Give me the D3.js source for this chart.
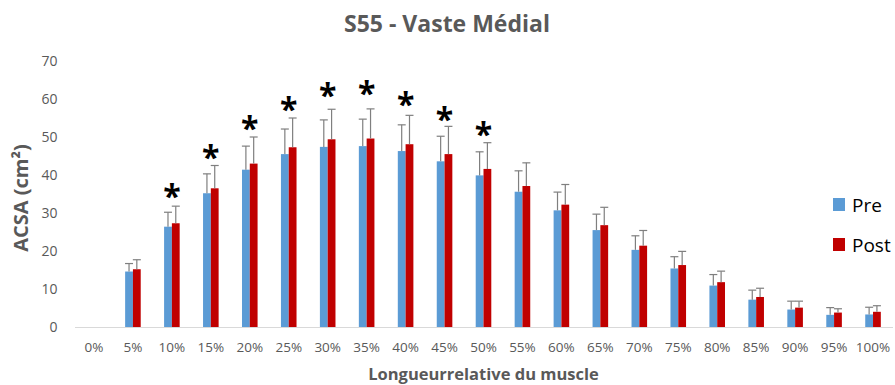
<!DOCTYPE html>
<html>
<head>
<meta charset="utf-8">
<script src="https://cdn.jsdelivr.net/npm/d3@7"></script>
<style>
  html, body { margin: 0; padding: 0; background: #fff; }
  svg { display: block; }
</style>
</head>
<body>
<svg id="chart" width="895" height="385"></svg>
<script>
const categories = ["0%","5%","10%","15%","20%","25%","30%","35%","40%","45%","50%","55%","60%","65%","70%","75%","80%","85%","90%","95%","100%"];
const preValues  = [0, 14.6, 26.4, 35.2, 41.4, 45.5, 47.4, 47.6, 46.3, 43.6, 39.9, 35.6, 30.7, 25.5, 20.3, 15.4, 10.9, 7.2, 4.6, 3.2, 3.3];
const postValues = [0, 15.2, 27.3, 36.5, 43.0, 47.3, 49.4, 49.6, 48.1, 45.5, 41.6, 37.1, 32.2, 26.8, 21.4, 16.3, 11.8, 7.9, 5.1, 3.8, 4.0];
const preErr     = [0, 2.1, 3.8, 5.1, 6.2, 6.6, 7.1, 7.1, 6.9, 6.6, 6.2, 5.5, 4.8, 4.2, 3.7, 3.1, 2.9, 2.5, 2.2, 1.9, 1.9];
const postErr    = [0, 2.5, 4.5, 6.0, 7.0, 7.7, 7.9, 7.8, 7.6, 7.3, 6.9, 6.1, 5.3, 4.7, 4.0, 3.6, 2.9, 2.3, 1.7, 1.0, 1.6];
const starCategories = ["10%","15%","20%","25%","30%","35%","40%","45%","50%"];
const starLevels     = [35.6, 45.8, 53.3, 58.4, 62.2, 62.6, 59.7, 55.8, 51.8];
const yTicks = [0, 10, 20, 30, 40, 50, 60, 70];
const seriesNames = ["Pre", "Post"];
const seriesColors = ["#5B9BD5", "#C00000"];

const svg = d3.select("#chart");
const plotLeft = 74.5, plotRight = 892.5, plotTop = 61, plotBottom = 327;
const font = "'Open Sans', 'Segoe UI', sans-serif";

const x = d3.scaleBand().domain(categories).range([plotLeft, plotRight]).paddingInner(0).paddingOuter(0);
const y = d3.scaleLinear().domain([0, 70]).range([plotBottom, plotTop]);
const barW = x.bandwidth() / 5;

// Title
svg.append("text")
  .attr("x", 447).attr("y", 32)
  .attr("text-anchor", "middle")
  .attr("font-family", font).attr("font-weight", "bold")
  .attr("font-size", 23).attr("fill", "#595959")
  .text("S55 - Vaste Médial");

// Y axis (labels only)
const yAxis = d3.axisLeft(y).tickValues(yTicks).tickSize(0).tickPadding(17);
const yg = svg.append("g").attr("transform", `translate(${plotLeft},0)`).call(yAxis);
yg.select(".domain").remove();
yg.selectAll("text").attr("font-family", font).attr("font-size", 14).attr("fill", "#595959");

// X axis
const xAxis = d3.axisBottom(x).tickSize(0).tickPadding(15);
const xg = svg.append("g").attr("transform", `translate(0,${plotBottom})`).call(xAxis);
xg.select(".domain").attr("stroke", "#D9D9D9").attr("stroke-width", 1);
xg.selectAll("text").attr("font-family", font).attr("font-size", 13.5).attr("fill", "#595959");

// Bars
const data = categories.map((c, i) => ({ c, vals: [preValues[i], postValues[i]], errs: [preErr[i], postErr[i]] }));
const groups = svg.append("g").selectAll("g").data(data).join("g");
[0, 1].forEach(s => {
  groups.filter(d => d.vals[s] > 0).append("rect")
    .attr("x", d => x(d.c) + x.bandwidth() / 2 - barW + s * barW)
    .attr("y", d => y(d.vals[s]))
    .attr("width", barW)
    .attr("height", d => y(0) - y(d.vals[s]))
    .attr("fill", seriesColors[s]);
  const eb = groups.filter(d => d.vals[s] > 0).append("g")
    .attr("stroke", "#7F7F7F").attr("stroke-width", 1.2);
  eb.append("line")
    .attr("x1", d => x(d.c) + x.bandwidth() / 2 - barW / 2 + s * barW)
    .attr("x2", d => x(d.c) + x.bandwidth() / 2 - barW / 2 + s * barW)
    .attr("y1", d => y(d.vals[s]))
    .attr("y2", d => y(d.vals[s] + d.errs[s]));
  eb.append("line")
    .attr("x1", d => x(d.c) + x.bandwidth() / 2 - barW / 2 + s * barW - 4)
    .attr("x2", d => x(d.c) + x.bandwidth() / 2 - barW / 2 + s * barW + 4)
    .attr("y1", d => y(d.vals[s] + d.errs[s]))
    .attr("y2", d => y(d.vals[s] + d.errs[s]));
});

// Significance stars
svg.append("g").selectAll("text").data(starCategories.map((c, i) => ({ c, v: starLevels[i] })))
  .join("text")
  .attr("x", d => x(d.c) + x.bandwidth() / 2)
  .attr("y", d => y(d.v) + 16)
  .attr("text-anchor", "middle")
  .attr("font-family", font).attr("font-weight", "bold")
  .attr("font-size", 32).attr("fill", "#000")
  .text("*");

// Axis titles
svg.append("text")
  .attr("x", (plotLeft + plotRight) / 2).attr("y", 380)
  .attr("text-anchor", "middle")
  .attr("font-family", font).attr("font-weight", "bold")
  .attr("font-size", 16.5).attr("fill", "#595959")
  .text("Longueurrelative du muscle");

svg.append("text")
  .attr("transform", "translate(28,198) rotate(-90)")
  .attr("text-anchor", "middle")
  .attr("font-family", font).attr("font-weight", "bold")
  .attr("font-size", 20).attr("fill", "#595959")
  .text("ACSA (cm²)");

// Legend
const legend = svg.append("g");
seriesNames.forEach((n, i) => {
  legend.append("rect")
    .attr("x", 833).attr("y", 198 + i * 40)
    .attr("width", 12).attr("height", 13)
    .attr("fill", seriesColors[i]);
  legend.append("text")
    .attr("x", 852).attr("y", 211.5 + i * 40)
    .attr("font-family", font).attr("font-size", 19).attr("fill", "#000")
    .text(n);
});
</script>
</body>
</html>
